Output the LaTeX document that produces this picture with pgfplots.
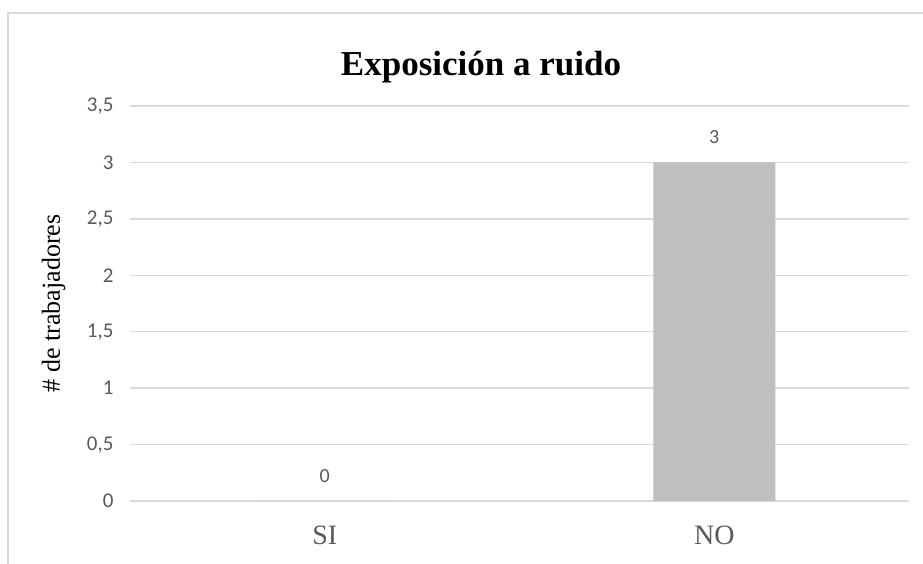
\documentclass[border=0pt]{standalone}
\usepackage{pgfplots}
\pgfplotsset{compat=1.18}
\usepackage{fontspec}
\setmainfont{Liberation Serif}
\newfontfamily\tickfont{Carlito}
\definecolor{gridgray}{HTML}{D9D9D9}
\definecolor{txtgray}{HTML}{595959}
\definecolor{bargray}{HTML}{BFBFBF}

\begin{document}
\begin{tikzpicture}[x=1pt,y=1pt]
  % fixed page frame and the chart border
  \useasboundingbox (0,0) rectangle (923,564);
  \draw[gridgray, line width=1.5pt] (8,-5) |- (930,551);
  \begin{axis}[
    at={(130pt,63pt)}, anchor=south west,
    scale only axis, width=779pt, height=395pt,
    xmin=-0.5, xmax=1.5, ymin=0, ymax=3.5,
    xtick={0,1}, xticklabels={SI,NO},
    ytick={0,0.5,1,1.5,2,2.5,3,3.5},
    axis line style={draw=none},
    major tick length=0pt,
    ymajorgrids, grid style={gridgray, line width=1.5pt},
    /pgf/number format/use comma,
    /pgf/number format/assume math mode=true,
    yticklabel style={font=\tickfont\fontsize{21}{21}\selectfont, text=txtgray, xshift=-13pt},
    xticklabel style={font=\fontsize{28}{28}\selectfont, text=txtgray, yshift=-21pt},
    ylabel={\# de trabajadores},
    ylabel style={font=\fontsize{26}{26}\selectfont, text=black, at={(axis description cs:-0.098,0.5)}, anchor=center},
    title={Exposición a ruido},
    title style={font=\bfseries\fontsize{35}{35}\selectfont, at={(axis description cs:0.4506,1)}, anchor=center, yshift=33pt},
  ]
    \addplot[ybar, bar width=122pt, fill=bargray, draw=none,
      nodes near coords,
      every node near coord/.append style={font=\tickfont\fontsize{20}{20}\selectfont, text=txtgray, anchor=center, yshift=25pt}]
      coordinates {(0,0) (1,3)};
  \end{axis}
\end{tikzpicture}
\end{document}
